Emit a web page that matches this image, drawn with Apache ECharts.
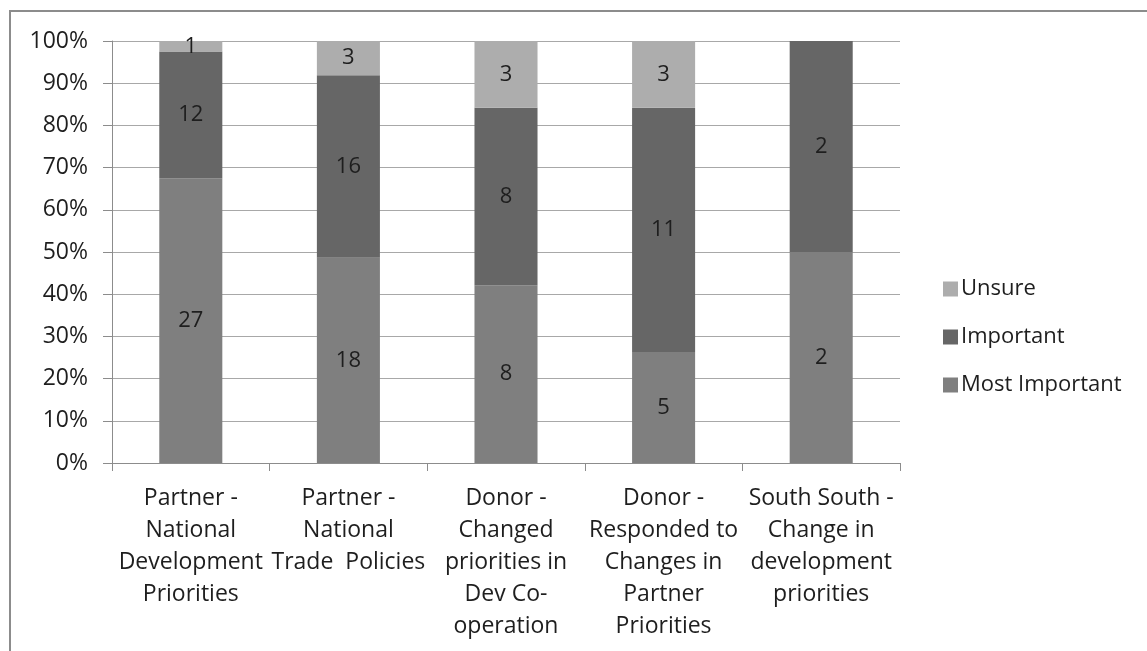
<!DOCTYPE html>
<html>
<head>
<meta charset="utf-8">
<script src="https://cdn.jsdelivr.net/npm/echarts@6/dist/echarts.min.js"></script>
<style>
html,body{margin:0;padding:0;background:#fff;}
#chart{width:1147px;height:651px;}
</style>
</head>
<body>
<div id="chart"></div>
<script>
const categories = [
  "Partner -\nNational\nDevelopment\nPriorities",
  "Partner -\nNational\nTrade  Policies",
  "Donor -\nChanged\npriorities in\nDev Co-\noperation",
  "Donor -\nResponded to\nChanges in\nPartner\nPriorities",
  "South South -\nChange in\ndevelopment\npriorities"
];
const mostImportant = [27, 18, 8, 5, 2];
const important = [12, 16, 8, 11, 2];
const unsure = [1, 3, 3, 3, 0];

const totals = categories.map((c, i) => mostImportant[i] + important[i] + unsure[i]);
const pct = arr => arr.map((v, i) => v / totals[i] * 100);

const FONT = 'Open Sans';
const FS = 23;
const TXT = '#1e1e1e';

function mk(name, counts, color) {
  return {
    name: name,
    type: 'bar',
    stack: 'total',
    barWidth: '40%',
    data: pct(counts),
    itemStyle: { color: color },
    label: {
      show: true,
      position: 'inside',
      color: TXT,
      fontFamily: FONT,
      fontSize: FS - 1,
      formatter: p => counts[p.dataIndex] ? String(counts[p.dataIndex]) : ''
    },
    emphasis: { disabled: true }
  };
}

const chart = echarts.init(document.getElementById('chart'), null, { renderer: 'canvas' });
chart.setOption({
  animation: false,
  textStyle: { fontFamily: FONT },
  graphic: [{
    type: 'rect',
    shape: { x: 10, y: 11, width: 1300, height: 800 },
    style: { fill: 'none', stroke: '#8c8c8c', lineWidth: 2 },
    silent: true
  }],
  grid: { left: 112, right: 247, top: 41, bottom: 188, containLabel: false },
  legend: {
    orient: 'vertical',
    left: 938,
    top: 273,
    itemWidth: 15,
    itemHeight: 15,
    itemGap: 26,
    icon: 'rect',
    data: ['Unsure', 'Important', 'Most Important'],
    textStyle: { fontFamily: FONT, fontSize: FS - 1, color: TXT, lineHeight: 22, padding: [0, 0, 0, -2] },
    selectedMode: false
  },
  xAxis: {
    type: 'category',
    data: categories,
    axisLine: { lineStyle: { color: '#8c8c8c', width: 1 } },
    axisTick: { show: true, length: 8, lineStyle: { color: '#8c8c8c' } },
    axisLabel: { interval: 0, fontFamily: FONT, fontSize: FS, color: TXT, lineHeight: 32, margin: 19 }
  },
  yAxis: {
    type: 'value',
    min: 0,
    max: 100,
    interval: 10,
    axisLine: { show: true, lineStyle: { color: '#8c8c8c', width: 1 } },
    axisTick: { show: true, length: 9, lineStyle: { color: '#8c8c8c' } },
    splitLine: { show: true, lineStyle: { color: '#a8a8a8', width: 1 } },
    axisLabel: { formatter: '{value}%', fontFamily: FONT, fontSize: FS, color: TXT, margin: 24 }
  },
  series: [
    mk('Most Important', mostImportant, '#7f7f7f'),
    mk('Important', important, '#666666'),
    mk('Unsure', unsure, '#adadad')
  ]
});
</script>
</body>
</html>
